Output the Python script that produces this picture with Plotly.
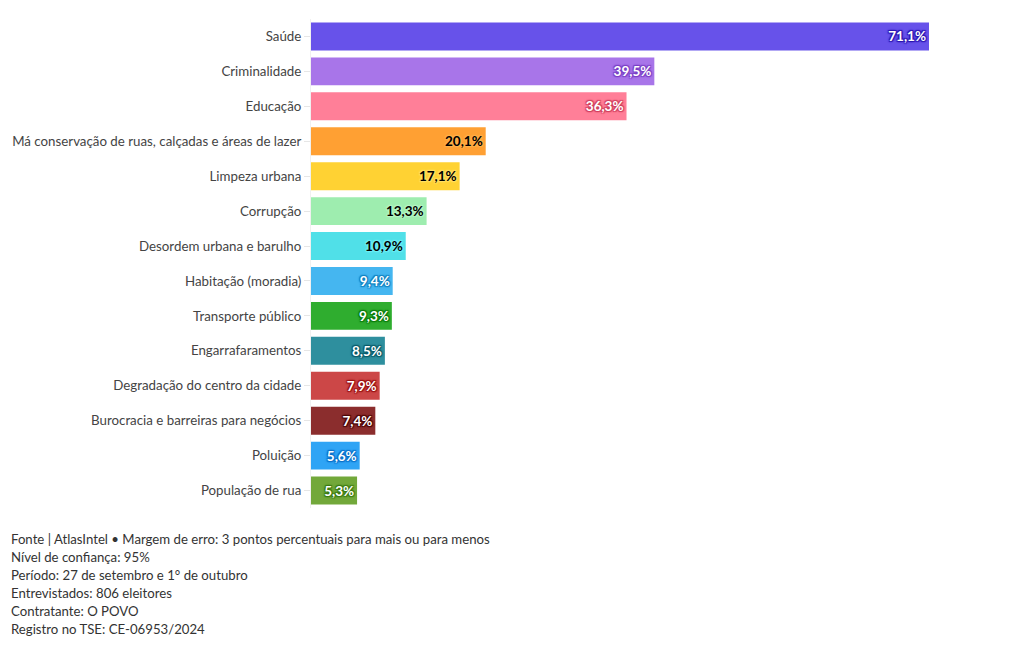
import plotly.graph_objects as go

categories = [
    "Saúde", "Criminalidade", "Educação",
    "Má conservação de ruas, calçadas e áreas de lazer",
    "Limpeza urbana", "Corrupção", "Desordem urbana e barulho",
    "Habitação (moradia)", "Transporte público", "Engarrafaramentos",
    "Degradação do centro da cidade", "Burocracia e barreiras para negócios",
    "Poluição", "População de rua",
]
values = [71.1, 39.5, 36.3, 20.1, 17.1, 13.3, 10.9, 9.4, 9.3, 8.5, 7.9, 7.4, 5.6, 5.3]
bar_colors = ["#6752ea", "#a875e9", "#ff7f98", "#ffa033", "#ffd233", "#9eedaf",
              "#50e0e8", "#45b6f0", "#2fad2f", "#2e8f9e", "#cc4747", "#8b2d2d",
              "#2fa4f5", "#72a83a"]
text_colors = ["#ffffff", "#ffffff", "#ffffff", "#000000", "#000000", "#000000",
               "#000000", "#ffffff", "#ffffff", "#ffffff", "#ffffff", "#ffffff",
               "#ffffff", "#ffffff"]
shadow_colors = ["#2a14b0", "#7a3fc4", "#d0405e", "#ffb04a", "#ffe066", "#b5f5c5",
                 "#6eeef5", "#1080c0", "#0a7a0a", "#0a5a68", "#981010", "#4a0505",
                 "#0a70c8", "#3a7a10"]
footnote = [
    "Fonte | AtlasIntel • Margem de erro: 3 pontos percentuais para mais ou para menos",
    "Nível de confiança: 95%",
    "Período: 27 de setembro e 1° de outubro",
    "Entrevistados: 806 eleitores",
    "Contratante: O POVO",
    "Registro no TSE: CE-06953/2024",
]

labels = [f"{v:.1f}%".replace(".", ",") for v in values]
FONT = "Lato, 'Source Sans Pro', sans-serif"

fig = go.Figure(go.Bar(
    x=values, y=categories, orientation="h",
    marker=dict(color=bar_colors, line=dict(width=0)),
    text=labels, textposition="inside", insidetextanchor="end", textangle=0,
    constraintext="none",
    insidetextfont=dict(family=FONT, size=13.5, color=text_colors, weight="bold",
                        shadow=[f"1px 1px 1px {c}, -1px -1px 1px {c}, 1px -1px 1px {c}, -1px 1px 1px {c}, 0 0 3px {c}" for c in shadow_colors]),
    hoverinfo="skip",
))

OFF = 8  # page body margin
L, T = 311 - OFF, 18.5 - OFF
W, H = 1004, 633
pw = 618
ph = 490
R = W - L - pw
B = H - T - ph

annotations = []
for i, line in enumerate(footnote):
    y_px = 540 + 18 * i - OFF  # line center in figure pixels
    annotations.append(dict(
        xref="paper", yref="paper",
        x=(9 - OFF - L) / pw, y=(H - B - y_px) / ph,
        xanchor="left", yanchor="middle", align="left", showarrow=False,
        text=line,
        font=dict(family=FONT, size=13.2, color="#333333"),
    ))

fig.update_layout(
    width=W, height=H,
    margin=dict(l=L, r=R, t=T, b=B, autoexpand=False),
    paper_bgcolor="white", plot_bgcolor="white",
    bargap=0.2, showlegend=False,
    font=dict(family=FONT, size=13, color="#444444"),
    xaxis=dict(range=[0, 71.1], visible=False, fixedrange=True),
    yaxis=dict(autorange="reversed", ticks="outside", ticklen=6, tickcolor="#e6e6e6",
               showline=True, linecolor="#f0f0f0", linewidth=1,
               tickfont=dict(family=FONT, size=13.3, color="#444444"),
               showgrid=False, fixedrange=True),
    annotations=annotations,
)

fig.write_html("out.html")
